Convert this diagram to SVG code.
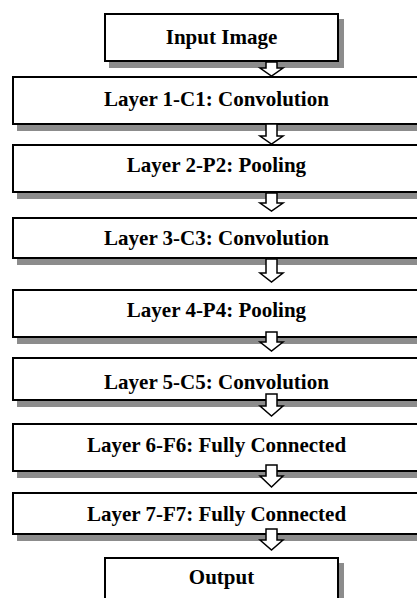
<svg xmlns="http://www.w3.org/2000/svg" width="417" height="598" viewBox="0 0 417 598">
<style>
.shadow{fill:#8c8c8c;stroke:none}
.box{fill:#fff;stroke:#000;stroke-width:2}
.lbl{font-family:"Liberation Serif","Times New Roman",serif;font-weight:bold;font-size:21px;fill:#000;text-anchor:middle}
.arr{fill:#fff;stroke:#000;stroke-width:1.5;stroke-linejoin:miter}
</style>
<rect width="417" height="598" fill="#fff"/>
<g id="input">
<rect class="shadow" x="109" y="19" width="235" height="49"/>
<rect class="box" x="105" y="14" width="233" height="47"/>
<text class="lbl" x="221.5" y="44">Input Image</text>
</g>
<g id="layer1">
<rect class="shadow" x="17" y="82" width="409" height="49"/>
<rect class="box" x="13" y="77" width="407" height="47"/>
<text class="lbl" x="216.5" y="106">Layer 1-C1: Convolution</text>
</g>
<g id="layer2">
<rect class="shadow" x="17" y="150" width="409" height="49"/>
<rect class="box" x="13" y="145" width="407" height="47"/>
<text class="lbl" x="216.5" y="172">Layer 2-P2: Pooling</text>
</g>
<g id="layer3">
<rect class="shadow" x="17" y="223" width="409" height="42"/>
<rect class="box" x="13" y="218" width="407" height="40"/>
<text class="lbl" x="216.5" y="245">Layer 3-C3: Convolution</text>
</g>
<g id="layer4">
<rect class="shadow" x="17" y="295" width="409" height="49"/>
<rect class="box" x="13" y="290" width="407" height="47"/>
<text class="lbl" x="216.5" y="317">Layer 4-P4: Pooling</text>
</g>
<g id="layer5">
<rect class="shadow" x="17" y="363" width="409" height="44"/>
<rect class="box" x="13" y="358" width="407" height="42"/>
<text class="lbl" x="216.5" y="389">Layer 5-C5: Convolution</text>
</g>
<g id="layer6">
<rect class="shadow" x="17" y="429" width="409" height="49"/>
<rect class="box" x="13" y="424" width="407" height="47"/>
<text class="lbl" x="216.5" y="452">Layer 6-F6: Fully Connected</text>
</g>
<g id="layer7">
<rect class="shadow" x="17" y="498" width="409" height="43"/>
<rect class="box" x="13" y="493" width="407" height="41"/>
<text class="lbl" x="216.5" y="521">Layer 7-F7: Fully Connected</text>
</g>
<g id="output">
<rect class="shadow" x="109" y="563" width="235" height="50"/>
<rect class="box" x="105" y="558" width="233" height="50"/>
<text class="lbl" x="221.5" y="584">Output</text>
</g>
<g id="connectors">
<polygon class="arr" points="266,62 277,62 277,68 283,68 271.5,76 260,68 266,68"/>
<polygon class="arr" points="266,124 277,124 277,136 283,136 271.5,144 260,136 266,136"/>
<polygon class="arr" points="266,193 277,193 277,203 283,203 271.5,211 260,203 266,203"/>
<polygon class="arr" points="266,259 277,259 277,273 283,273 271.5,282 260,273 266,273"/>
<polygon class="arr" points="266,332 277,332 277,342 283,342 271.5,351 260,342 266,342"/>
<polygon class="arr" points="266,394 277,394 277,406 283,406 271.5,416 260,406 266,406"/>
<polygon class="arr" points="266,465 277,465 277,476 283,476 271.5,487 260,476 266,476"/>
<polygon class="arr" points="266,529 277,529 277,540 283,540 271.5,550 260,540 266,540"/>
</g>
</svg>
